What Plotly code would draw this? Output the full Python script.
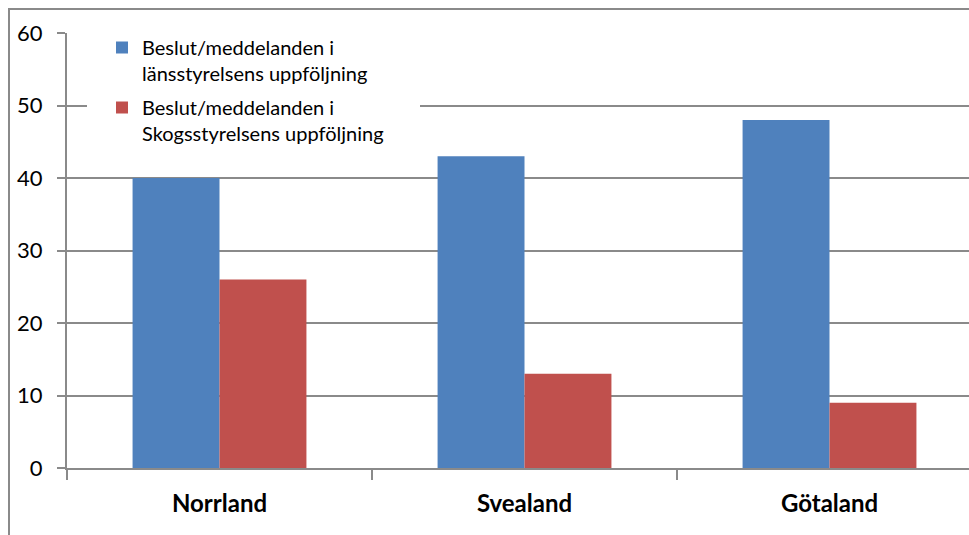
import plotly.graph_objects as go

# Regions and counts of decisions/notifications in each follow-up
regions = ["Norrland", "Svealand", "Götaland"]
lansstyrelsen = [40, 43, 48]
skogsstyrelsen = [26, 13, 9]
series_names = [
    "Beslut/meddelanden i<br>länsstyrelsens uppföljning",
    "Beslut/meddelanden i<br>Skogsstyrelsens uppföljning",
]
y_ticks = [0, 10, 20, 30, 40, 50, 60]

W, H = 969, 535
L, R, T, B = 67, 0, 33, 67
plot_w = W - L - R
plot_h = H - T - B
cat_px = 305  # pixel width of one category slot

GRID = "#8a8a8a"
FONT = "Lato, Calibri, Carlito, sans-serif"

fig = go.Figure()
fig.add_trace(go.Bar(x=regions, y=lansstyrelsen, name=series_names[0], legendgroup="a",
                     marker=dict(color="#4F81BD", line=dict(width=0))))
fig.add_trace(go.Bar(x=regions, y=skogsstyrelsen, name=series_names[1], legendgroup="b",
                     marker=dict(color="#C0504D", line=dict(width=0))))


def px_x(px):
    return (px - L) / plot_w


def px_y(py):
    return 1 - (py - T) / plot_h


shapes = [
    # white panel behind the legend, over the gridlines
    dict(type="rect", xref="paper", yref="paper",
         x0=px_x(87), x1=px_x(420), y0=px_y(165), y1=px_y(24),
         line=dict(width=0), fillcolor="white", layer="above"),
    # outer chart frame
    dict(type="rect", xref="paper", yref="paper",
         x0=px_x(9), x1=px_x(W + 20), y0=px_y(H + 20), y1=px_y(9),
         line=dict(color=GRID, width=2), fillcolor="rgba(0,0,0,0)", layer="above"),
]

fig.update_layout(
    width=W, height=H,
    margin=dict(l=L, r=R, t=T, b=B, pad=0),
    paper_bgcolor="white", plot_bgcolor="white",
    barmode="group", bargap=0.43, bargroupgap=0,
    font=dict(family=FONT, color="black"),
    showlegend=True,
    legend=dict(
        x=px_x(102), y=px_y(28), xanchor="left", yanchor="top",
        bgcolor="white", borderwidth=0,
        font=dict(family=FONT, size=20, color="black"),
        valign="top", traceorder="grouped", tracegroupgap=5, itemwidth=30,
    ),
    shapes=shapes,
    xaxis=dict(
        type="category", range=[-0.5, -0.5 + plot_w / cat_px],
        showline=True, linecolor=GRID, linewidth=2,
        ticks="outside", tickson="boundaries", ticklen=10, tickwidth=2, tickcolor=GRID,
        showgrid=False, zeroline=False,
        tickfont=dict(family=FONT, size=24, color="black", weight="bold"),
        ticklabelstandoff=13,
    ),
    yaxis=dict(
        range=[0, 60], tickvals=y_ticks, ticktext=[str(v) for v in y_ticks],
        showline=True, linecolor=GRID, linewidth=2,
        ticks="outside", ticklen=8, tickwidth=2, tickcolor=GRID,
        showgrid=True, gridcolor=GRID, gridwidth=2, zeroline=False,
        tickfont=dict(family=FONT, size=22, color="black"),
        ticklabelstandoff=10,
    ),
)

fig.write_html("out.html")
